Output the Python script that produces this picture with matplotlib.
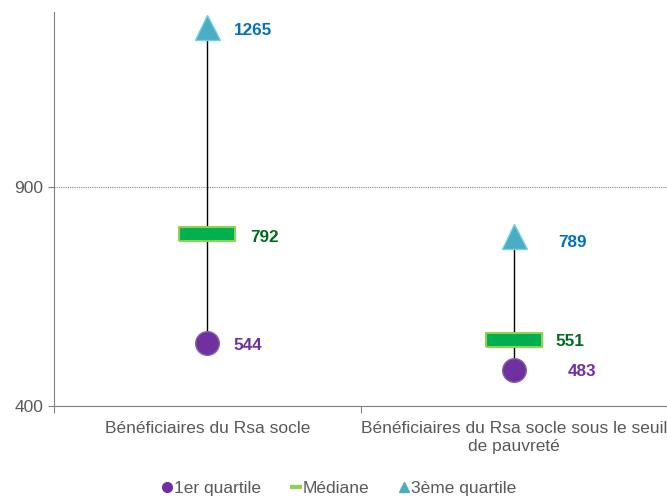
import matplotlib
matplotlib.use('Agg')
import matplotlib.pyplot as plt
from matplotlib.lines import Line2D

# data
categories = ['Bénéficiaires du Rsa socle',
              'Bénéficiaires du Rsa socle sous le seuil\nde pauvreté']
q1 = [544, 483]
median = [792, 551]
q3 = [1265, 789]
legend_labels = ['1er quartile', 'Médiane', '3ème quartile']

plt.rcParams['font.family'] = ['Liberation Sans', 'DejaVu Sans']

fig = plt.figure(figsize=(6.67, 4.99), dpi=100)
ax = fig.add_axes([54 / 667, 93 / 499, 613 / 667, 394 / 499])

xs = [0.5, 1.5]
ax.set_xlim(0, 2)
ax.set_ylim(400, 1300)

# grid / spines
ax.axhline(900, color='#808080', lw=0.8, ls=(0, (1, 1)), zorder=0)
for s in ['top', 'right']:
    ax.spines[s].set_visible(False)
ax.spines['left'].set_color('#808080')
ax.spines['left'].set_linestyle((0, (1, 1)))
ax.spines['left'].set_linewidth(0.8)
ax.spines['bottom'].set_color('#808080')
ax.spines['bottom'].set_linewidth(0.8)

ax.set_yticks([400, 900])
ax.tick_params(axis='y', colors='#808080', labelcolor='#595959', labelsize=12.5, length=4, width=0.8)
ax.set_xticks([0, 1, 2])
ax.set_xticklabels([])
ax.tick_params(axis='x', which='major', colors='#808080', length=5, width=0.8)
ax.set_xticks(xs, minor=True)
ax.set_xticklabels(categories, minor=True, fontsize=12.5, color='#595959', linespacing=1.25)
ax.tick_params(axis='x', which='minor', length=0, pad=11)

rect = [(-2.1, -0.5), (2.1, -0.5), (2.1, 0.5), (-2.1, 0.5), (-2.1, -0.5)]

for i, x in enumerate(xs):
    ax.plot([x, x], [q1[i], q3[i]], color='black', lw=1, zorder=1)
    ax.plot(x, q3[i], marker='^', ms=18, color='#4BACC6', mec='#6FD0DF', mew=1, zorder=3)
    ax.plot(x, median[i], marker=rect, ms=40, color='#00B050', mec='#92D050', mew=1.5, zorder=3)
    ax.plot(x, q1[i], marker='o', ms=17, color='#7030A0', mec='#8064A2', mew=1, zorder=3)

# label offsets in points (x, y)
off_q3 = [(19, -2), (32, -5)]
off_med = [(31, -2), (30, -1)]
off_q1 = [(19, -1.5), (39, -1)]
for i, x in enumerate(xs):
    ax.annotate(str(q3[i]), (x, q3[i]), xytext=off_q3[i], textcoords='offset points',
                color='#0070C0', fontsize=12.3, fontweight='bold', va='center')
    ax.annotate(str(median[i]), (x, median[i]), xytext=off_med[i], textcoords='offset points',
                color='#006B1F', fontsize=12.3, fontweight='bold', va='center')
    ax.annotate(str(q1[i]), (x, q1[i]), xytext=off_q1[i], textcoords='offset points',
                color='#7030A0', fontsize=12.3, fontweight='bold', va='center')

handles = [
    Line2D([], [], ls='none', marker='o', ms=7, color='#7030A0'),
    Line2D([], [], ls='none', marker='_', ms=9, mew=3, color='#92D050'),
    Line2D([], [], ls='none', marker='^', ms=7, color='#4BACC6'),
]
fig.legend(handles, legend_labels, loc='center', bbox_to_anchor=(0.508, 0.021), ncol=3,
           frameon=False, fontsize=12.5, handlelength=0.6, handletextpad=0.1,
           columnspacing=1.7, labelcolor='#595959', borderpad=0.1)

fig.savefig('out.png', dpi=100)
